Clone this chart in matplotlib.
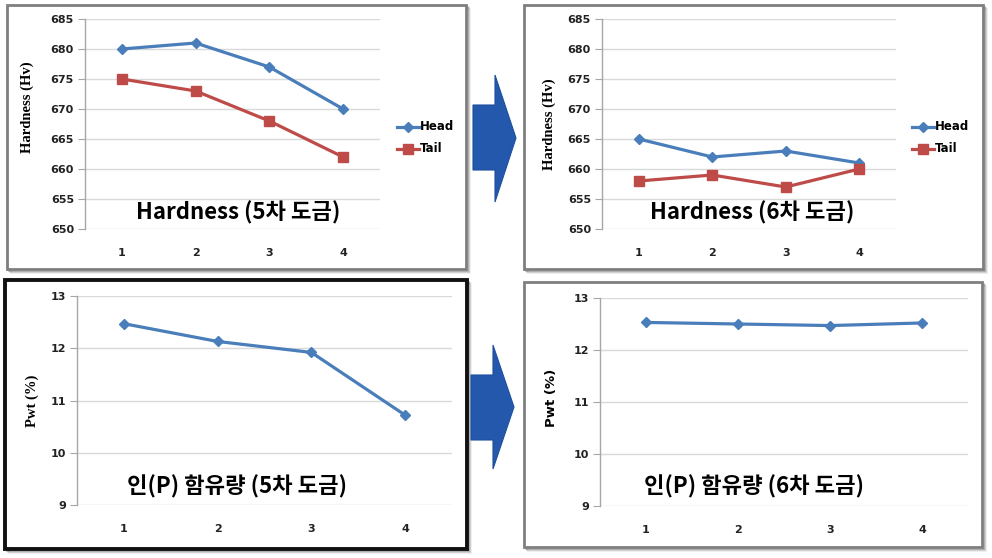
import matplotlib
matplotlib.use("Agg")
import matplotlib.pyplot as plt
from matplotlib.patches import Rectangle, Polygon
from matplotlib.lines import Line2D

plt.rcParams['font.family'] = ['Noto Sans CJK KR', 'DejaVu Sans']

x_pos = [1, 2, 3, 4]
x_labels = ["1", "2", "3", "4"]
head_5 = [680, 681, 677, 670]
tail_5 = [675, 673, 668, 662]
head_6 = [665, 662, 663, 661]
tail_6 = [658, 659, 657, 660]
pwt_5 = [12.47, 12.13, 11.92, 10.72]
pwt_6 = [12.53, 12.50, 12.47, 12.52]
hard_ticks = [650, 655, 660, 665, 670, 675, 680, 685]
pwt_ticks = [9, 10, 11, 12, 13]
series_names = ["Head", "Tail"]
titles = ["Hardness (5차 도금)", "Hardness (6차 도금)",
          "인(P) 함유량 (5차 도금)", "인(P) 함유량 (6차 도금)"]

W, H = 992, 558
fig = plt.figure(figsize=(W / 100, H / 100), dpi=100)
fig.patch.set_facecolor('white')

BLUE = '#4a7ebb'
RED = '#be4b48'


def px_rect(x0, y0, x1, y1):
    return [x0 / W, 1 - y1 / H, (x1 - x0) / W, (y1 - y0) / H]


def frame(x0, y0, x1, y1, color, lw, shadow=True):
    if shadow:
        for i, a in enumerate([0.25, 0.15, 0.08]):
            fig.patches.append(Rectangle(((x0 + 2 + i) / W, 1 - (y1 + 2 + i) / H),
                                         (x1 - x0) / W, (y1 - y0) / H,
                                         transform=fig.transFigure, facecolor='none',
                                         edgecolor=(0, 0, 0, a), lw=1.2, zorder=-3))
    fig.patches.append(Rectangle((x0 / W, 1 - y1 / H), (x1 - x0) / W, (y1 - y0) / H,
                                 transform=fig.transFigure, facecolor='white',
                                 edgecolor=color, lw=lw, zorder=-2))


frame(7, 5, 466, 269, '#7f7f7f', 2.0)
frame(524, 5, 983, 269, '#7f7f7f', 2.0)
frame(5, 280, 467, 549, '#111111', 2.8)
frame(524, 282, 982, 547, '#7f7f7f', 2.0)


def style_axes(ax, ylim, yticks):
    ax.set_xlim(0.5, 4.5)
    ax.set_ylim(*ylim)
    ax.set_yticks(yticks)
    ax.set_xticks(x_pos)
    ax.set_xticklabels(x_labels)
    ax.set_facecolor('none')
    for s in ['top', 'right', 'bottom']:
        ax.spines[s].set_visible(False)
    ax.spines['left'].set_color('#a6a6a6')
    ax.spines['left'].set_linewidth(1.0)
    ax.grid(axis='y', color='#d9d9d9', lw=1.0)
    ax.set_axisbelow(True)
    ax.tick_params(axis='y', length=5, color='#a6a6a6', pad=3, labelsize=8)
    ax.tick_params(axis='x', length=0, pad=14, labelsize=8)
    for lab in ax.get_xticklabels() + ax.get_yticklabels():
        lab.set_fontweight('bold')
        lab.set_family('DejaVu Sans')
        lab.set_color('#222222')


# Panel 1
ax1 = fig.add_axes(px_rect(85, 19, 380, 229))
ax1.plot(x_pos, head_5, color=BLUE, lw=2.3, marker='D', ms=5, zorder=3)
ax1.plot(x_pos, tail_5, color=RED, lw=2.3, marker='s', ms=7, zorder=3)
style_axes(ax1, (650, 685), hard_ticks)

# Panel 2
ax2 = fig.add_axes(px_rect(602, 19, 896, 229))
ax2.plot(x_pos, head_6, color=BLUE, lw=2.3, marker='D', ms=5, zorder=3)
ax2.plot(x_pos, tail_6, color=RED, lw=2.3, marker='s', ms=7, zorder=3)
style_axes(ax2, (650, 685), hard_ticks)

# Panel 3
ax3 = fig.add_axes(px_rect(77, 296, 452, 505))
ax3.plot(x_pos, pwt_5, color=BLUE, lw=2.3, marker='D', ms=5, zorder=3)
style_axes(ax3, (9, 13), pwt_ticks)

# Panel 4
ax4 = fig.add_axes(px_rect(600, 298, 968, 506))
ax4.plot(x_pos, pwt_6, color=BLUE, lw=2.3, marker='D', ms=5, zorder=3)
style_axes(ax4, (9, 13), pwt_ticks)

# Y labels
fig.text(27 / W, 1 - 107 / H, "Hardness (Hv)", rotation=90, ha='center', va='center',
         family='Liberation Serif', fontweight='bold', fontsize=10.5)
fig.text(549 / W, 1 - 124 / H, "Hardness (Hv)", rotation=90, ha='center', va='center',
         family='Liberation Serif', fontweight='bold', fontsize=10.5)
fig.text(32 / W, 1 - 401 / H, "Pwt (%)", rotation=90, ha='center', va='center',
         family='Liberation Serif', fontweight='bold', fontsize=10.5)
fig.text(551 / W, 1 - 398 / H, "Pwt (%)", rotation=90, ha='center', va='center',
         family='DejaVu Sans', fontweight='bold', fontsize=9.5)

# Titles
title_pos = [(238, 213), (752, 213), (237, 487), (754, 487)]
for t, (tx, ty) in zip(titles, title_pos):
    fig.text(tx / W, 1 - ty / H, t, ha='center', va='center',
             fontsize=16, fontweight='heavy', color='black')

# Legends (manual)
for lx in (397, 912):
    for name, col, mk, ms, ly in [(series_names[0], BLUE, 'D', 5, 127),
                                   (series_names[1], RED, 's', 7, 149)]:
        fig.lines.append(Line2D([lx / W, (lx + 22) / W], [1 - ly / H, 1 - ly / H],
                                transform=fig.transFigure, color=col, lw=2.3))
        fig.lines.append(Line2D([(lx + 11) / W], [1 - ly / H], transform=fig.transFigure,
                                color=col, marker=mk, ms=ms, lw=0))
        fig.text((lx + 23) / W, 1 - ly / H, name, ha='left', va='center',
                 family='DejaVu Sans', fontweight='bold', fontsize=8.5)


# Arrows
def arrow(x0, xh, xt, ys0, ys1, yh0, yh1, ytip):
    pts = [(x0, ys0), (xh, ys0), (xh, yh0), (xt, ytip), (xh, yh1), (xh, ys1), (x0, ys1)]
    pts = [(px / W, 1 - py / H) for px, py in pts]
    fig.patches.append(Polygon(pts, closed=True, transform=fig.transFigure,
                               facecolor='#2358ad', edgecolor='#1d4f9c', lw=0.8))


arrow(473, 495, 516, 105, 170, 75, 202, 138)
arrow(471, 493, 514, 375, 440, 345, 469, 407)

fig.savefig('out.png', dpi=100, facecolor='white')
